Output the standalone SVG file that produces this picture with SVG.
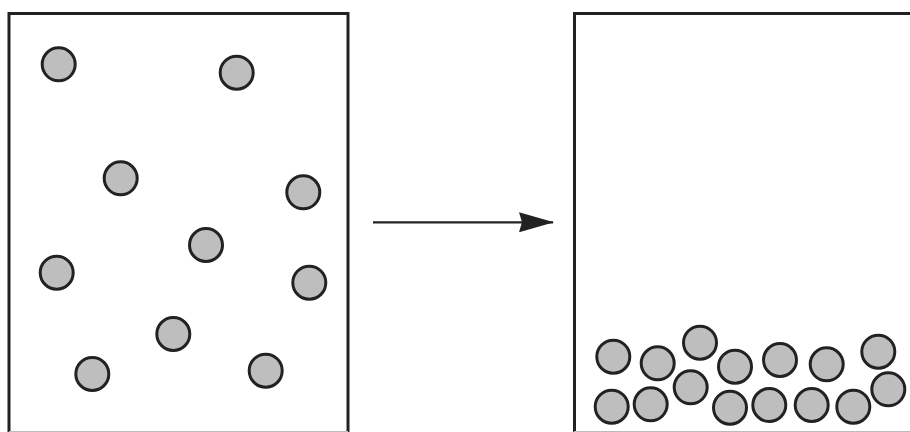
<svg xmlns="http://www.w3.org/2000/svg" width="910" height="432" viewBox="0 0 910 432">
<style>
.box{fill:none;stroke:#222;stroke-width:3}
.p{fill:#bebebe;stroke:#222;stroke-width:3}
.edge{stroke:#bbb;stroke-width:1}
.conn{stroke:#222;stroke-width:2.2;fill:none}
</style>
<defs>
<marker id="ah" viewBox="0 0 36 20" refX="34" refY="10" markerWidth="36" markerHeight="20" markerUnits="userSpaceOnUse" orient="auto">
<path d="M0,0 L35,10 L0,20 L3,10 Z" fill="#222"/>
</marker>
</defs>
<rect width="910" height="432" fill="#fff"/>
<g id="left-container">
<path class="box" d="M9,434 V13.5 H348 V434"/>
<line class="edge" x1="9" y1="431.5" x2="348" y2="431.5"/>
<g id="left-particles">
<circle class="p" cx="58.7" cy="64.3" r="16.5"/>
<circle class="p" cx="236.7" cy="72.7" r="16.5"/>
<circle class="p" cx="120.7" cy="178.3" r="16.5"/>
<circle class="p" cx="303.3" cy="192.3" r="16.5"/>
<circle class="p" cx="206" cy="245" r="16.5"/>
<circle class="p" cx="56.7" cy="272.7" r="16.5"/>
<circle class="p" cx="309.3" cy="282.7" r="16.5"/>
<circle class="p" cx="173.3" cy="334" r="16.5"/>
<circle class="p" cx="92.3" cy="374" r="16.5"/>
<circle class="p" cx="265.7" cy="370.7" r="16.5"/>
</g>
</g>
<g id="connectors">
<line class="conn" x1="373" y1="222.3" x2="553" y2="222.3" marker-end="url(#ah)"/>
</g>
<g id="right-container">
<path class="box" d="M574.5,434 V13.5 H912"/>
<line class="edge" x1="574" y1="431.5" x2="910" y2="431.5"/>
<g id="right-particles">
<circle class="p" cx="613.3" cy="356.7" r="16.5"/>
<circle class="p" cx="657.7" cy="363.3" r="16.5"/>
<circle class="p" cx="700" cy="342.7" r="16.5"/>
<circle class="p" cx="735" cy="366.7" r="16.5"/>
<circle class="p" cx="780" cy="360" r="16.5"/>
<circle class="p" cx="826.7" cy="364.3" r="16.5"/>
<circle class="p" cx="878.3" cy="351.7" r="16.5"/>
<circle class="p" cx="611.7" cy="406.7" r="16.5"/>
<circle class="p" cx="650.7" cy="404.3" r="16.5"/>
<circle class="p" cx="690.7" cy="387.3" r="16.5"/>
<circle class="p" cx="730" cy="407.7" r="16.5"/>
<circle class="p" cx="769.3" cy="405" r="16.5"/>
<circle class="p" cx="811.7" cy="405" r="16.5"/>
<circle class="p" cx="853.3" cy="406.7" r="16.5"/>
<circle class="p" cx="888.3" cy="389.3" r="16.5"/>
</g>
</g>
</svg>
